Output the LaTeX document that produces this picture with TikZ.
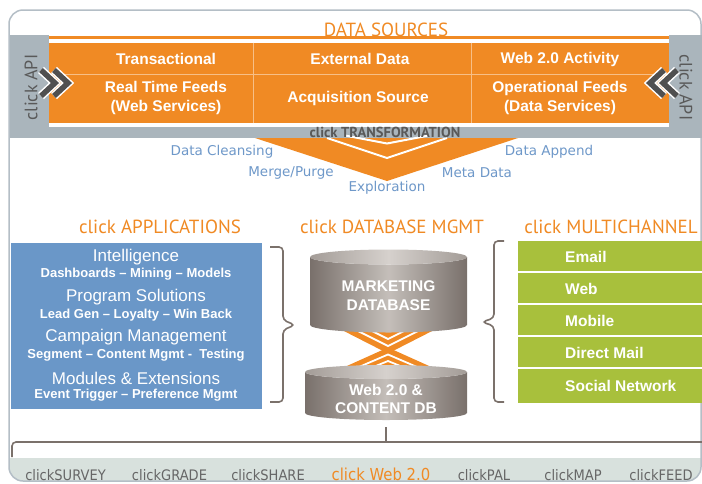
\documentclass[tikz,border=0pt]{standalone}
\usepackage{fontspec}
\setmainfont{Liberation Sans}
\newfontfamily\hfont{PT Sans}
\newfontfamily\lfont{DejaVu Sans}
\newfontfamily\bfont[FakeStretch=0.9]{DejaVu Sans}
\definecolor{borderc}{HTML}{B4BEC6}
\definecolor{bandc}{HTML}{AAB5BC}
\definecolor{orng}{HTML}{F08A24}
\definecolor{apiTxt}{HTML}{595959}
\definecolor{chevc}{HTML}{505050}
\definecolor{lblue}{HTML}{6E98C9}
\definecolor{appblue}{HTML}{6A97C8}
\definecolor{chgreen}{HTML}{A8C03C}
\definecolor{bracec}{HTML}{7B716B}
\definecolor{stripc}{HTML}{D8E1DD}
\definecolor{botTxt}{HTML}{666666}
\definecolor{cylDark}{HTML}{79706B}
\definecolor{cylLight}{HTML}{C4BEB9}
\definecolor{topDark}{HTML}{A39C97}
\definecolor{topLight}{HTML}{D6D1CD}
\tikzset{
  srcTxt/.style={text=white, font=\bfseries\fontsize{15.5}{19.5}\selectfont, align=center, inner sep=0pt},
  heading/.style={text=orng, font=\hfont\fontsize{19}{20}\selectfont, inner sep=0pt},
  apiLbl/.style={text=apiTxt, font=\hfont\fontsize{18}{18}\selectfont, inner sep=0pt},
  trLbl/.style={text=lblue, font=\lfont\fontsize{13.5}{15}\selectfont, inner sep=0pt},
  appHead/.style={text=white, font=\fontsize{17}{19}\selectfont, inner sep=0pt},
  appSub/.style={text=white, font=\bfseries\fontsize{13}{15}\selectfont, inner sep=0pt},
  chanTxt/.style={text=white, font=\bfseries\fontsize{15.5}{18}\selectfont, inner sep=0pt, anchor=west},
  cylTxt/.style={text=white, font=\bfseries\fontsize{15.5}{18.5}\selectfont, align=center, inner sep=0pt},
  botLbl/.style={text=botTxt, font=\bfont\fontsize{14.5}{16}\selectfont, inner sep=0pt},
  bracestyle/.style={draw=bracec, line width=1.6pt, rounded corners=4pt},
  chevW/.style={draw=white, line width=8.5pt, miter limit=10},
  chevG/.style={draw=chevc, line width=5.5pt, miter limit=10},
  cellLine/.style={draw=orng!55!white, line width=0.8pt},
}
\begin{document}
\begin{tikzpicture}[x=1pt,y=-1pt]
\useasboundingbox (0,0) rectangle (702,483);
\fill[white] (0,0) rectangle (702,483);
% bottom strip clipped to frame
\begin{scope}
  \clip[rounded corners=14pt] (9,10) rectangle (701,481);
  \fill[stripc] (9,458) rectangle (702,483);
\end{scope}
\draw[borderc, line width=1.5pt, rounded corners=14pt] (9,10) rectangle (701,481);

% ---- data sources ----
\node[heading] (dsHead) at (386,30) {DATA SOURCES};
\fill[bandc] (10,35) rectangle (49,138);
\fill[bandc] (10,127) rectangle (702,138);
\fill[bandc] (669,35) rectangle (702,138);
\fill[orng] (49,35.5) rectangle (669,123);
\fill[white] (49,39.3) rectangle (669,42.5);
\draw[cellLine] (49,74) -- (669,74);
\draw[cellLine] (253,42.5) -- (253,123);
\draw[cellLine] (471,42.5) -- (471,123);
\node[srcTxt] (s1) at (166,59) {Transactional};
\node[srcTxt] (s2) at (360,59) {External Data};
\node[srcTxt] (s3) at (560,59) {Web 2.0 Activity};
\node[srcTxt] (s4) at (166,98) {Real Time Feeds\\(Web Services)};
\node[srcTxt] (s5) at (358,98) {Acquisition Source};
\node[srcTxt] (s6) at (560,98) {Operational Feeds\\(Data Services)};

% API side labels and chevrons
\node[apiLbl, rotate=90] (apiL) at (31,87.5) {click API};
\node[apiLbl, rotate=-90] (apiR) at (686,87.5) {click API};
\draw[chevW] (41,70) -- (55,83) -- (41,96);
\draw[chevG] (41,70) -- (55,83) -- (41,96);
\draw[chevW] (54,70) -- (68,83) -- (54,96);
\draw[chevG] (54,70) -- (68,83) -- (54,96);
\draw[chevW] (677,70) -- (663,83) -- (677,96);
\draw[chevG] (677,70) -- (663,83) -- (677,96);
\draw[chevW] (664,70) -- (650,83) -- (664,96);
\draw[chevG] (664,70) -- (650,83) -- (664,96);

% ---- transformation ----
\fill[orng] (255,138) -- (518,138) -- (387,181) -- cycle;
\draw[white, line width=2pt] (345,135.5) -- (387,143.5) -- (429,135.5);
\draw[white, line width=2pt] (327,138) -- (387,158) -- (447,138);
\node[text=apiTxt, font=\hfont\bfseries\fontsize{14.5}{15}\selectfont, inner sep=0pt] (trans) at (385,132.5) {click TRANSFORMATION};
\node[trLbl] (t1) at (222,152) {Data Cleansing};
\node[trLbl] (t2) at (291,173) {Merge/Purge};
\node[trLbl] (t3) at (387,188) {Exploration};
\node[trLbl] (t4) at (477,173) {Meta Data};
\node[trLbl] (t5) at (549,152) {Data Append};

% ---- headings ----
\node[heading] (apH) at (160,227) {click APPLICATIONS};
\node[heading] (dbH) at (392,227) {click DATABASE MGMT};
\node[heading] (mcH) at (611,227) {click MULTICHANNEL};

% ---- applications ----
\fill[appblue] (11,243) rectangle (262,409);
\node[appHead] (a1) at (136,257) {Intelligence};
\node[appSub]  (a1s) at (136,274.5) {Dashboards -- Mining -- Models};
\node[appHead] (a2) at (136,297) {Program Solutions};
\node[appSub]  (a2s) at (136,315) {Lead Gen -- Loyalty -- Win Back};
\node[appHead] (a3) at (136,337.5) {Campaign Management};
\node[appSub]  (a3s) at (136,355) {Segment -- Content Mgmt -\ \ Testing};
\node[appHead] (a4) at (136,378) {Modules \& Extensions};
\node[appSub]  (a4s) at (136,395) {Event Trigger -- Preference Mgmt};
\draw[bracestyle] (270,247) -- (283,247) -- (283,320) -- (295,325) -- (283,330) -- (283,402) -- (270,402);

% ---- multichannel ----
\fill[chgreen] (518,241) rectangle (702,403);
\foreach \yy in {272,304,336,368} \draw[white, line width=1.2pt] (518,\yy) -- (702,\yy);
\node[chanTxt] (c1) at (565,257) {Email};
\node[chanTxt] (c2) at (565,289) {Web};
\node[chanTxt] (c3) at (565,321) {Mobile};
\node[chanTxt] (c4) at (565,352.5) {Direct Mail};
\node[chanTxt] (c5) at (565,386) {Social Network};
\draw[bracestyle] (504,241) -- (494,241) -- (494,318) -- (482,322) -- (494,326) -- (494,402) -- (504,402);

% ---- database X connector ----
\fill[orng] (338,328) -- (438,328) -- (388,353.5) -- cycle;
\draw[white, line width=1.8pt] (352,328) -- (388,346) -- (424,328);
\draw[white, line width=1.8pt] (366,328) -- (388,339) -- (410,328);
\fill[orng] (338,370) -- (438,370) -- (388,347.5) -- cycle;
\draw[white, line width=1.8pt] (352,370) -- (388,354.5) -- (424,370);
\draw[white, line width=1.8pt] (366,370) -- (388,361) -- (410,370);

% ---- cylinders ----
\shade[left color=cylDark, right color=cylDark, middle color=cylLight]
  (310,257) -- (310,325) arc[start angle=180, end angle=0, x radius=78.5, y radius=7.5]
  -- (467,257) arc[start angle=0, end angle=180, x radius=78.5, y radius=7.5] -- cycle;
\shade[left color=topDark, right color=topDark, middle color=topLight] (388.5,257) ellipse [x radius=78.5, y radius=7.5];
\node[cylTxt] (mdb) at (388.5,295.5) {MARKETING\\DATABASE};

\shade[left color=cylDark, right color=cylDark, middle color=cylLight]
  (305,372) -- (305,413) arc[start angle=180, end angle=0, x radius=81, y radius=7]
  -- (467,372) arc[start angle=0, end angle=180, x radius=81, y radius=7] -- cycle;
\shade[left color=topDark, right color=topDark, middle color=topLight] (386,372) ellipse [x radius=81, y radius=7];
\node[cylTxt] (wdb) at (386,399) {Web 2.0 \&\\CONTENT DB};

% ---- bottom bracket ----
\draw[bracestyle] (12,457) -- (12,442) -- (702,442);
\draw[draw=bracec, line width=1.6pt] (386,427) -- (386,442);

% ---- bottom labels ----
\node[botLbl] (b1) at (65.5,475) {clickSURVEY};
\node[botLbl] (b2) at (169.5,475) {clickGRADE};
\node[botLbl] (b3) at (268,475) {clickSHARE};
\node[botLbl, text=orng, font=\bfont\fontsize{16.5}{18}\selectfont] (b4) at (381,474) {click Web 2.0};
\node[botLbl] (b5) at (484,475) {clickPAL};
\node[botLbl] (b6) at (573,475) {clickMAP};
\node[botLbl] (b7) at (661,475) {clickFEED};
\end{tikzpicture}
\end{document}
